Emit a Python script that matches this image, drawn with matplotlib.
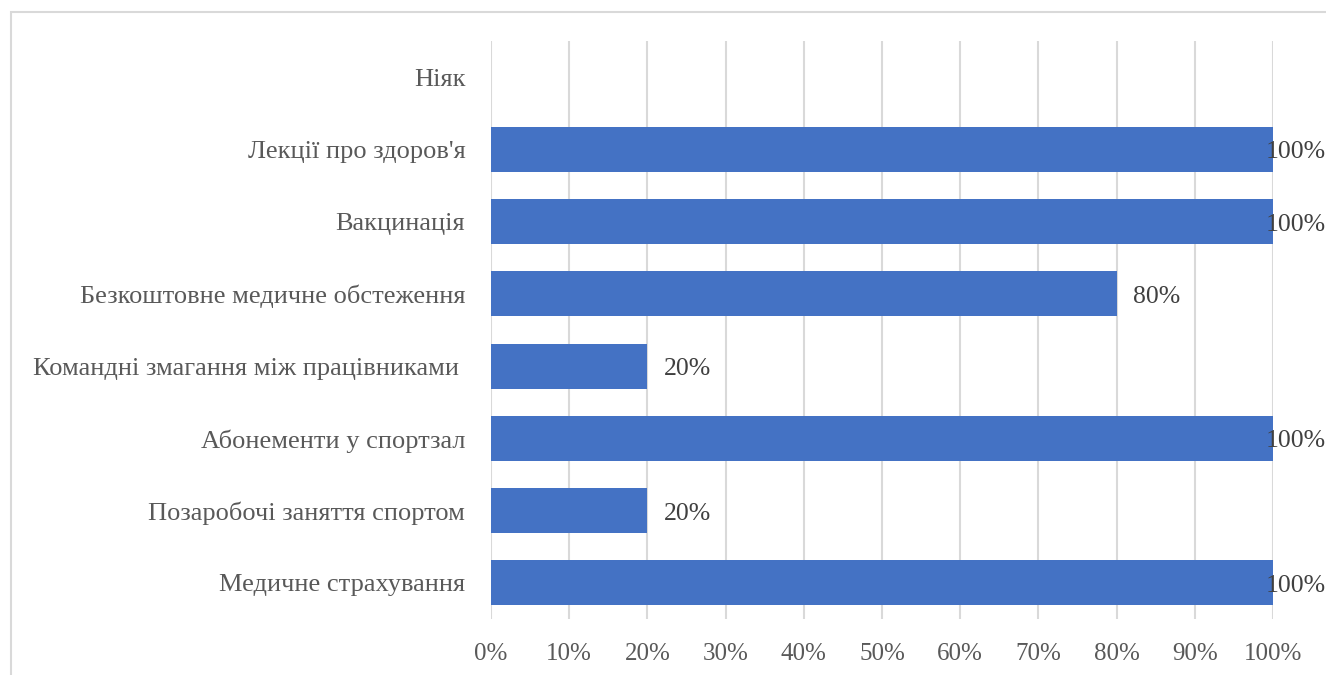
import matplotlib
matplotlib.use("Agg")
import matplotlib.pyplot as plt
from matplotlib.patches import Rectangle

categories = [
    "Медичне страхування",
    "Позаробочі заняття спортом",
    "Абонементи у спортзал",
    "Командні змагання між працівниками ",
    "Безкоштовне медичне обстеження",
    "Вакцинація",
    "Лекції про здоров'я",
    "Ніяк",
]
values = [100, 20, 100, 20, 80, 100, 100, 0]
xticks = [0, 10, 20, 30, 40, 50, 60, 70, 80, 90, 100]
xticklabels = [f"{t}%" for t in xticks]

plt.rcParams['font.family'] = ['Liberation Serif', 'DejaVu Serif']
W, H = 1326, 675
fig = plt.figure(figsize=(W / 100, H / 100), dpi=100)
ax = fig.add_axes([491 / W, 1 - 619 / H, (1273 - 491) / W, (619 - 41) / H])

text_color = "#595959"
grid_color = "#d9d9d9"

ypos = list(range(len(categories)))
ax.barh(ypos, values, height=0.62, color="#4472C4", zorder=3)
ax.set_ylim(-0.5, len(categories) - 0.5)
ax.set_xlim(0, 100)
ax.set_xticks(xticks)
ax.set_xticklabels(xticklabels, fontsize=18)
ax.set_yticks(ypos)
ax.set_yticklabels(categories, fontsize=19)
ax.tick_params(axis='both', length=0, labelcolor=text_color)
ax.tick_params(axis='y', pad=18.5)
ax.tick_params(axis='x', pad=17)
ax.xaxis.grid(True, color=grid_color, linewidth=1.5, zorder=0)
for s in ax.spines.values():
    s.set_visible(False)

# data labels
for y, v in zip(ypos, values):
    if v == 0:
        continue
    lbl = f"{v}%"
    off = -7 if v >= 100 else 16
    ax.annotate(lbl, xy=(v, y), xytext=(off, -3), textcoords='offset pixels',
                ha='left', va='center', fontsize=18.5, color="#404040",
                annotation_clip=False, zorder=4)

# chart area border
fig.patches.append(Rectangle((11 / W, -0.1), 1.2, 1 - 12 / H + 0.1,
                             transform=fig.transFigure, fill=False,
                             edgecolor=grid_color, linewidth=1.5))

fig.savefig("out.png", dpi=100)
